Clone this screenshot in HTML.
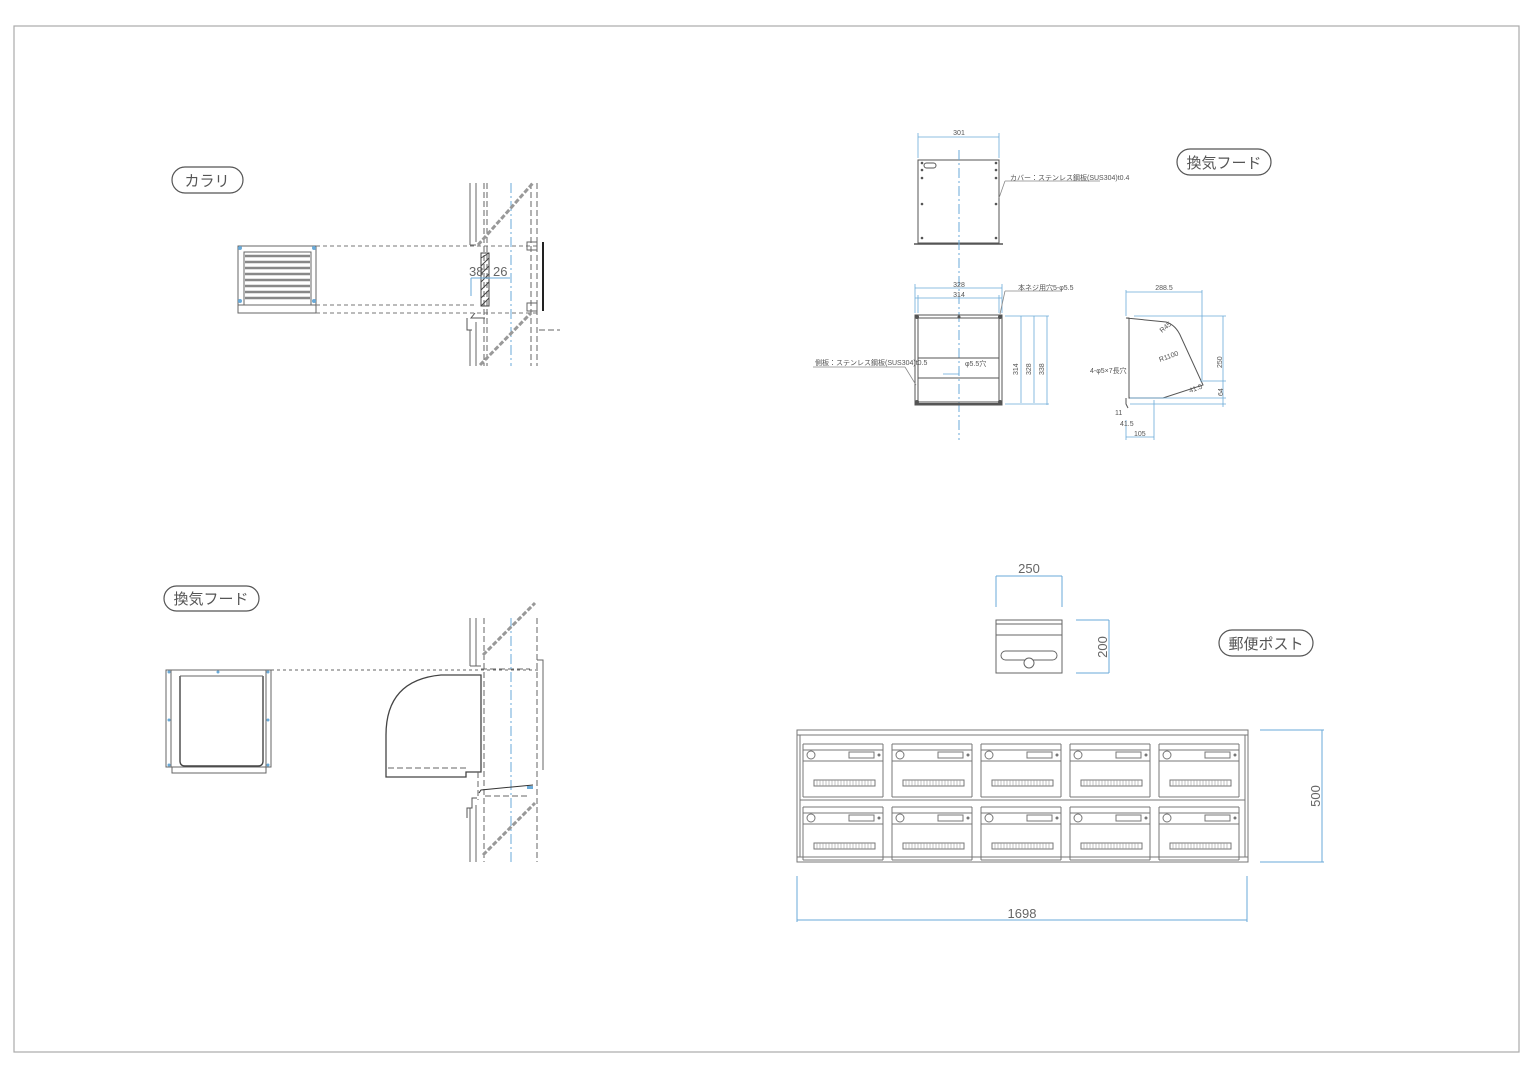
<!DOCTYPE html>
<html><head><meta charset="utf-8"><style>
html,body{margin:0;padding:0;background:#fff;}
svg{display:block;}
text{font-family:"Liberation Sans","Noto Sans CJK JP",sans-serif;}
</style></head><body>
<svg width="1536" height="1086" viewBox="0 0 1536 1086" xmlns="http://www.w3.org/2000/svg">
<defs>
<g id="unit" fill="none" stroke="#777" stroke-width="1">
  <line x1="6" y1="0" x2="6" y2="53"/><line x1="86" y1="0" x2="86" y2="53"/>
  <line x1="6" y1="0" x2="86" y2="0"/>
  <line x1="6" y1="6" x2="86" y2="6"/>
  <line x1="6" y1="17" x2="86" y2="17"/>
  <circle cx="14" cy="11" r="4"/>
  <rect x="52" y="8" width="25" height="6"/>
  <circle cx="82" cy="11" r="1" fill="#777"/>
  <rect x="17" y="36" width="61" height="6"/>
  <path d="M20 36v6M23 36v6M26 36v6M29 36v6M32 36v6M35 36v6M38 36v6M41 36v6M44 36v6M47 36v6M50 36v6M53 36v6M56 36v6M59 36v6M62 36v6M65 36v6M68 36v6M71 36v6M74 36v6" stroke="#999" stroke-width="0.6"/>
  <line x1="6" y1="53" x2="86" y2="53"/>
</g>
</defs>
<rect x="14" y="26" width="1505" height="1026" fill="none" stroke="#aaa" stroke-width="1.2"/>

<g fill="#fff" stroke="#555" stroke-width="1.2">
<rect x="172" y="167" width="71" height="26" rx="13"/>
<rect x="1177" y="149" width="94" height="26" rx="13"/>
<rect x="164" y="586" width="95" height="25" rx="12.5"/>
<rect x="1219" y="630" width="94" height="26" rx="13"/>
</g>
<g fill="#555" font-size="15">
<text x="207" y="186" text-anchor="middle">カラリ</text>
<text x="1224" y="168" text-anchor="middle">換気フード</text>
<text x="211" y="604" text-anchor="middle">換気フード</text>
<text x="1266" y="649" text-anchor="middle">郵便ポスト</text>
</g>

<g fill="none" stroke="#666" stroke-width="1">
<rect x="238" y="246" width="78" height="67"/>
<line x1="238" y1="305" x2="316" y2="305"/>
<rect x="244" y="252" width="67" height="53"/>
<g stroke="#888" stroke-width="2.5">
<line x1="245" y1="256" x2="310" y2="256"/><line x1="245" y1="262" x2="310" y2="262"/>
<line x1="245" y1="268" x2="310" y2="268"/><line x1="245" y1="274" x2="310" y2="274"/>
<line x1="245" y1="280" x2="310" y2="280"/><line x1="245" y1="286" x2="310" y2="286"/>
<line x1="245" y1="292" x2="310" y2="292"/><line x1="245" y1="298" x2="310" y2="298"/>
</g>
<g stroke-dasharray="4 3" stroke="#777">
<line x1="316" y1="246" x2="540" y2="246"/>
<line x1="316" y1="305" x2="475" y2="305"/>
<line x1="316" y1="313" x2="540" y2="313"/>
</g>
<line x1="470" y1="183" x2="470" y2="245"/><line x1="476" y1="183" x2="476" y2="242"/>
<line x1="470" y1="245" x2="476" y2="245"/>
<line x1="470" y1="330" x2="470" y2="366"/><line x1="476" y1="322" x2="476" y2="366"/>
<g stroke-dasharray="6 3"><line x1="484" y1="183" x2="484" y2="366"/><line x1="487" y1="183" x2="487" y2="366"/>
<line x1="531" y1="183" x2="531" y2="366"/><line x1="537" y1="183" x2="537" y2="366"/></g>
<line x1="511" y1="183" x2="511" y2="366" stroke="#6aaad8" stroke-dasharray="10 3 2 3"/>
<rect x="481" y="253" width="8" height="53" stroke="#444"/>
<path d="M481 258l8-5M481 266l8-8M481 274l8-8M481 282l8-8M481 290l8-8M481 298l8-8M481 306l8-8" stroke="#444"/>
<line x1="543" y1="242" x2="543" y2="311" stroke="#222" stroke-width="2"/>
<path d="M527 242h10v8h-10zM527 303h10v8h-10z"/>
<path d="M475 313l-4 5h14M467 318v12h5" stroke="#555"/>
<line x1="539" y1="330" x2="560" y2="330" stroke-dasharray="6 3"/>
<g stroke="#999" stroke-width="3" stroke-dasharray="5 2"><line x1="478" y1="245" x2="533" y2="183"/><line x1="480" y1="365" x2="531" y2="313"/></g>
</g>
<g fill="#6aaad8"><circle cx="240" cy="248" r="2"/><circle cx="314" cy="248" r="2"/><circle cx="240" cy="301" r="2"/><circle cx="314" cy="301" r="2"/></g>
<line x1="471" y1="278" x2="510" y2="278" stroke="#6aaad8"/>
<line x1="471" y1="278" x2="471" y2="296" stroke="#6aaad8"/>
<text x="469" y="276" font-size="13" fill="#666">38</text><text x="493" y="276" font-size="13" fill="#666">26</text>

<g fill="none" stroke="#666" stroke-width="1">
<rect x="166" y="670" width="105" height="97"/>
<rect x="171" y="670" width="95" height="97"/>
<rect x="172" y="767" width="94" height="6"/>
<path d="M180 676v85q0 5 5 5h73q5 0 5-5v-85" stroke="#444" stroke-width="1.4"/>
<line x1="180" y1="676" x2="263" y2="676"/>
<line x1="271" y1="670" x2="540" y2="670" stroke-dasharray="3 3"/>
<path d="M386 773v-38q0-55 55-60h40v97h-15v5h-80z" stroke="#444" stroke-width="1.3"/>
<line x1="388" y1="768" x2="466" y2="768" stroke-dasharray="6 3"/>
<line x1="470" y1="618" x2="470" y2="666"/><line x1="476" y1="618" x2="476" y2="666"/>
<line x1="470" y1="666" x2="481" y2="666"/>
<line x1="470" y1="808" x2="470" y2="862"/><line x1="476" y1="805" x2="476" y2="862"/>
<g stroke-dasharray="6 3"><line x1="484" y1="618" x2="484" y2="862"/><line x1="478" y1="772" x2="478" y2="800"/>
<line x1="537" y1="618" x2="537" y2="862"/><line x1="481" y1="669" x2="530" y2="669"/><line x1="485" y1="796" x2="530" y2="796"/></g>
<line x1="511" y1="618" x2="511" y2="862" stroke="#6aaad8" stroke-dasharray="10 3 2 3"/>
<path d="M537 660h6v110" />
<path d="M479 793l2-3 52-5" stroke="#333"/>
<path d="M477 798h-5v10h-5v10" stroke="#555"/>
<g stroke="#999" stroke-width="3" stroke-dasharray="5 2"><line x1="483" y1="655" x2="535" y2="603"/><line x1="483" y1="855" x2="535" y2="803"/></g>
</g>
<g fill="#6aaad8"><circle cx="218" cy="672" r="1.5"/><circle cx="169" cy="720" r="1.5"/><circle cx="268" cy="720" r="1.5"/><circle cx="169" cy="765" r="1.5"/><circle cx="268" cy="765" r="1.5"/><circle cx="169" cy="672" r="1.5"/><circle cx="268" cy="672" r="1.5"/><rect x="527" y="786" width="6" height="3"/></g>

<g fill="none" stroke="#555" stroke-width="1">
<rect x="918" y="160" width="81" height="83"/>
<line x1="914" y1="244" x2="1003" y2="244" stroke-width="1.6"/>
<rect x="924" y="163" width="12" height="5" rx="2.5"/>
<line x1="959" y1="150" x2="959" y2="440" stroke="#6aaad8" stroke-dasharray="10 3 2 3"/>
<rect x="915" y="315" width="87" height="90"/>
<rect x="918" y="318" width="81" height="84"/>
<line x1="918" y1="358" x2="999" y2="358"/><line x1="918" y1="378" x2="999" y2="378"/>
<line x1="915" y1="404" x2="1002" y2="404" stroke-width="2"/>
<path d="M1126 318l40 4q10 3 15 15l22 48l-40 13h-34v-80z"/>
<path d="M1126 398v6l2 4"/>
</g>
<g fill="#555"><circle cx="922" cy="163" r="1.3"/><circle cx="922" cy="170" r="1.3"/><circle cx="922" cy="178" r="1.3"/><circle cx="996" cy="163" r="1.3"/><circle cx="996" cy="170" r="1.3"/><circle cx="996" cy="178" r="1.3"/><circle cx="922" cy="204" r="1.3"/><circle cx="996" cy="204" r="1.3"/><circle cx="922" cy="238" r="1.3"/><circle cx="996" cy="238" r="1.3"/>
<circle cx="917" cy="317" r="2"/><circle cx="1000" cy="317" r="2"/><circle cx="959" cy="317" r="1.5"/><circle cx="917" cy="402" r="2"/><circle cx="1000" cy="402" r="2"/></g>
<g stroke="#6aaad8" stroke-width="0.8" fill="none">
<line x1="918" y1="137" x2="999" y2="137"/><line x1="918" y1="133" x2="918" y2="158"/><line x1="999" y1="133" x2="999" y2="158"/>
<line x1="915" y1="288" x2="1002" y2="288"/><line x1="915" y1="298" x2="1002" y2="298"/>
<line x1="915" y1="284" x2="915" y2="313"/><line x1="1002" y1="284" x2="1002" y2="313"/><line x1="918" y1="295" x2="918" y2="313"/><line x1="999" y1="295" x2="999" y2="313"/>
<line x1="1021" y1="316" x2="1021" y2="403"/><line x1="1034" y1="316" x2="1034" y2="403"/><line x1="1047" y1="316" x2="1047" y2="405"/>
<line x1="1005" y1="316" x2="1049" y2="316"/><line x1="1005" y1="404" x2="1049" y2="404"/>
<line x1="1126" y1="292" x2="1202" y2="292"/><line x1="1126" y1="290" x2="1126" y2="316"/><line x1="1202" y1="290" x2="1202" y2="380"/>
<line x1="1134" y1="316" x2="1226" y2="316"/><line x1="1223" y1="316" x2="1223" y2="407"/>
<line x1="1130" y1="398" x2="1226" y2="398"/><line x1="1130" y1="404" x2="1226" y2="404"/><line x1="1200" y1="381" x2="1226" y2="381"/>
<line x1="1126" y1="437" x2="1154" y2="437"/><line x1="1154" y1="400" x2="1154" y2="440"/><line x1="1126" y1="420" x2="1126" y2="440"/>
<line x1="943" y1="374" x2="959" y2="374"/><line x1="1005" y1="181" x2="1100" y2="181" stroke="#888"/><line x1="1005" y1="181" x2="999" y2="198" stroke="#888"/>
<line x1="1005" y1="291" x2="1062" y2="291" stroke="#888"/><line x1="1005" y1="291" x2="1000" y2="314" stroke="#888"/>
<line x1="813" y1="367" x2="905" y2="367" stroke="#888"/><line x1="905" y1="367" x2="916" y2="385" stroke="#888"/>
</g>
<g fill="#555" font-size="7">
<text x="959" y="135" text-anchor="middle">301</text>
<text x="959" y="287" text-anchor="middle">328</text>
<text x="959" y="297" text-anchor="middle">314</text>
<text x="1010" y="180">カバー：ステンレス鋼板(SUS304)t0.4</text>
<text x="1018" y="290">本ネジ用穴5-φ5.5</text>
<text x="815" y="365">側板：ステンレス鋼板(SUS304)t0.5</text>
<text x="965" y="366">φ5.5穴</text>
<text x="1164" y="290" text-anchor="middle">288.5</text>
<text x="1090" y="373">4-φ5×7長穴</text>
<text x="1160" y="362" transform="rotate(-20 1160 362)">R1100</text>
<text x="1162" y="333" transform="rotate(-40 1162 333)">R45</text>
<text x="1190" y="393" transform="rotate(-20 1190 393)">41.5</text>
<text x="1115" y="415">11</text><text x="1120" y="426">41.5</text><text x="1134" y="436">105</text>
<text x="1018" y="375" transform="rotate(-90 1018 375)">314</text>
<text x="1031" y="375" transform="rotate(-90 1031 375)">328</text>
<text x="1044" y="375" transform="rotate(-90 1044 375)">338</text>
<text x="1222" y="368" transform="rotate(-90 1222 368)">250</text>
<text x="1223" y="396" transform="rotate(-90 1223 396)">64</text>
</g>

<g fill="none" stroke="#666" stroke-width="1">
<rect x="996" y="620" width="66" height="53"/>
<line x1="996" y1="624" x2="1062" y2="624"/><line x1="996" y1="635" x2="1062" y2="635"/>
<rect x="1001" y="651" width="56" height="9" rx="4.5"/>
<circle cx="1029" cy="663" r="5" fill="#fff"/>
</g>
<g stroke="#6aaad8" stroke-width="1" fill="none">
<line x1="996" y1="576" x2="1062" y2="576"/><line x1="996" y1="576" x2="996" y2="607"/><line x1="1062" y1="576" x2="1062" y2="607"/>
<line x1="1109" y1="620" x2="1109" y2="673"/><line x1="1076" y1="620" x2="1109" y2="620"/><line x1="1076" y1="673" x2="1109" y2="673"/>
</g>
<text x="1029" y="573" font-size="13" fill="#666" text-anchor="middle">250</text>
<text x="1107" y="647" font-size="13" fill="#666" text-anchor="middle" transform="rotate(-90 1107 647)">200</text>

<g fill="none" stroke="#777" stroke-width="1">
<rect x="797" y="730" width="451" height="132"/>
<line x1="797" y1="735" x2="1248" y2="735"/>
<line x1="797" y1="857" x2="1248" y2="857"/>
<line x1="800" y1="735" x2="800" y2="857"/><line x1="1245" y1="735" x2="1245" y2="857"/>
<line x1="800" y1="800" x2="1245" y2="800"/>
</g>
<use href="#unit" x="797" y="744"/><use href="#unit" x="886" y="744"/><use href="#unit" x="975" y="744"/><use href="#unit" x="1064" y="744"/><use href="#unit" x="1153" y="744"/>
<use href="#unit" x="797" y="807"/><use href="#unit" x="886" y="807"/><use href="#unit" x="975" y="807"/><use href="#unit" x="1064" y="807"/><use href="#unit" x="1153" y="807"/>
<g stroke="#6aaad8" stroke-width="1" fill="none">
<line x1="797" y1="920" x2="1247" y2="920"/><line x1="797" y1="876" x2="797" y2="922"/><line x1="1247" y1="876" x2="1247" y2="922"/>
<line x1="1322" y1="730" x2="1322" y2="862"/><line x1="1260" y1="730" x2="1324" y2="730"/><line x1="1260" y1="862" x2="1324" y2="862"/>
</g>
<text x="1022" y="918" font-size="13" fill="#666" text-anchor="middle">1698</text>
<text x="1320" y="796" font-size="13" fill="#666" text-anchor="middle" transform="rotate(-90 1320 796)">500</text>
</svg>
</body></html>
